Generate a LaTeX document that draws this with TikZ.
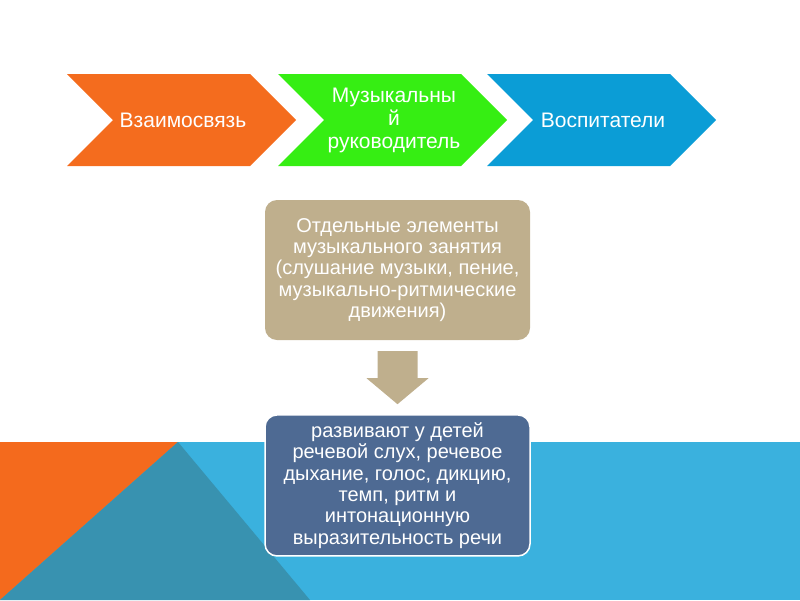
\documentclass[tikz,border=0pt]{standalone}
\usepackage{fontspec}
\setmainfont{Liberation Sans}
\usetikzlibrary{positioning}
\usetikzlibrary{calc}

\definecolor{chevorange}{HTML}{F46C1E}
\definecolor{chevgreen}{HTML}{36EE13}
\definecolor{chevblue}{HTML}{0B9DD6}
\definecolor{boxtan}{HTML}{BFAF8D}
\definecolor{boxnavy}{HTML}{4E6A93}
\definecolor{bandblue}{HTML}{3AB1DE}
\definecolor{bandteal}{HTML}{3892B0}
\definecolor{bandorange}{HTML}{F46A1D}

\begin{document}
\begin{tikzpicture}[x=1pt, y=-1pt,
    every node/.style={text=white, align=center, font=\fontsize{20}{21.3}\selectfont},
    tanbox/.style={fill=boxtan, rounded corners=12pt, minimum width=265, minimum height=140, inner sep=0pt},
    navybox/.style={fill=boxnavy, draw=white, line width=1.5pt, rounded corners=12pt, minimum width=265, minimum height=141, inner sep=0pt}]

        \useasboundingbox (0,0) rectangle (800,600);

        % bottom band
        \fill[bandblue] (0,442) rectangle (800,600);
        \fill[bandorange] (0,442) -- (178,442) -- (0,600) -- cycle;
        \fill[bandteal] (178,442) -- (310,600) -- (0,600) -- cycle;

        \def\chevlen{183} % Length of the flat top edge
        \def\chevtip{46} % Depth of the point and the notch

        \foreach \x/\col/\name/\txt in {67/chevorange/link/{Взаимосвязь}, 278/chevgreen/director/{Музыкальны\\й\\руководитель}, 487/chevblue/teachers/{Воспитатели}} {
          \fill[\col] (\x,74) -- ++(\chevlen,0) -- ++(\chevtip,\chevtip) -- ++(-\chevtip,\chevtip) -- ++(-\chevlen,0) -- ++(\chevtip,-\chevtip) -- cycle;
          \node[font=\fontsize{21}{23}\selectfont] (\name) at (\x+116,120) {\txt};
        }

        \node[tanbox] (elements) at (397.5,270) {Отдельные элементы\\музыкального занятия\\(слушание музыки, пение,\\музыкально-ритмические\\движения)};
        \node[navybox, below=74pt of elements] (skills) {развивают у детей\\речевой слух, речевое\\дыхание, голос, дикцию,\\темп, ритм и\\интонационную\\выразительность речи};

        \coordinate (arrowtop) at ($(elements.south)+(0,11)$);
        \coordinate (arrowtip) at ($(skills.north)+(0,-10)$);

        \fill[boxtan] ($(arrowtop)+(-20,0)$) -- ($(arrowtop)+(20,0)$) -- ($(arrowtop)+(20,27)$) -- ($(arrowtop)+(31,27)$)
          -- (arrowtip) -- ($(arrowtop)+(-31,27)$) -- ($(arrowtop)+(-20,27)$) -- cycle;

      \end{tikzpicture}
\end{document}
